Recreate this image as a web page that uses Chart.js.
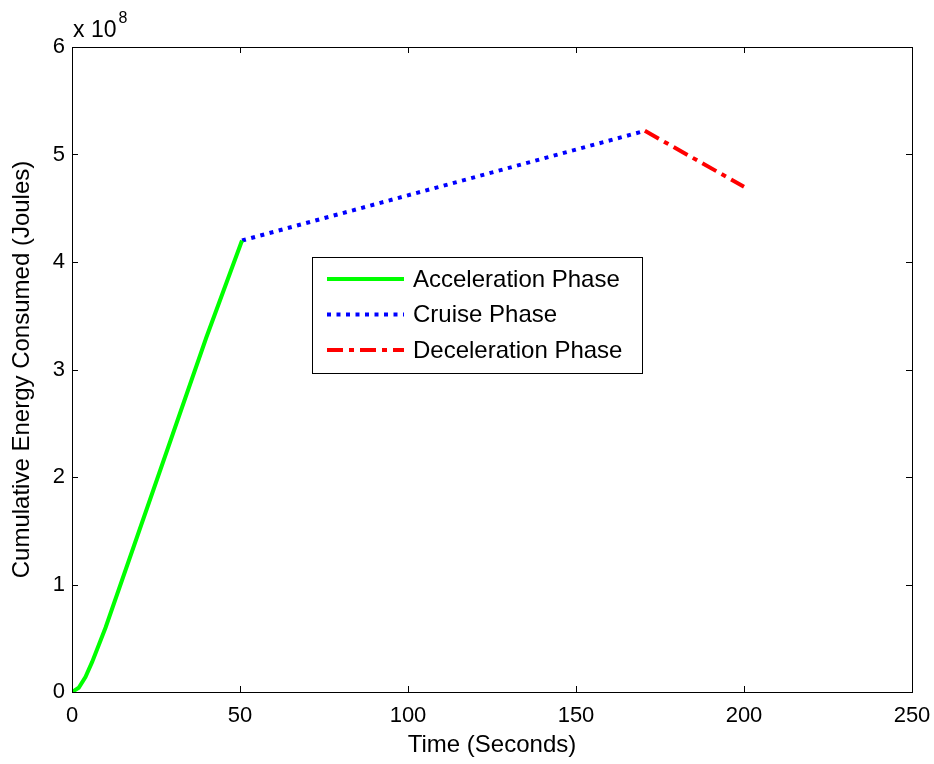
<!DOCTYPE html>
<html>
<head>
<meta charset="utf-8">
<script src="https://cdn.jsdelivr.net/npm/chart.js@4"></script>
<style>
  html, body { margin: 0; padding: 0; background: #fff; }
  #wrap { width: 934px; height: 764px; }
</style>
</head>
<body>
<div id="wrap"><canvas id="chart"></canvas></div>
<script>
// values, energy in units of 10^8 J
const accelTime = [0, 2, 4, 6, 8, 10, 20, 30, 40, 50.6];
const accelEnergy = [0, 0.04, 0.14, 0.28, 0.44, 0.6, 1.5, 2.4, 3.3, 4.2];
const cruiseTime = [50.6, 170.5];
const cruiseEnergy = [4.2, 5.22];
const decelTime = [170.5, 200];
const decelEnergy = [5.22, 4.70];

const xTicks = [0, 50, 100, 150, 200, 250];
const yTicks = [0, 1, 2, 3, 4, 5, 6];
const seriesNames = ["Acceleration Phase", "Cruise Phase", "Deceleration Phase"];

const FONT_FAMILY = '"Liberation Sans", Arial, sans-serif';
const TICK_SIZE = 22;
const TITLE_SIZE = 24;

const toPoints = (xs, ys) => xs.map((x, i) => ({ x, y: ys[i] }));

// MATLAB style box, inward ticks, exponent label and legend
const matlabFrame = {
  id: "matlabFrame",
  afterDraw(chart) {
    const ctx = chart.ctx;
    const ca = chart.chartArea;
    const xs = chart.scales.x, ys = chart.scales.y;
    const tick = 6;
    ctx.save();
    ctx.strokeStyle = "#000";
    ctx.lineWidth = 1;
    ctx.strokeRect(ca.left + 0.5, ca.top + 0.5, ca.right - ca.left, ca.bottom - ca.top);
    ctx.beginPath();
    xTicks.forEach(v => {
      const px = Math.round(xs.getPixelForValue(v)) + 0.5;
      ctx.moveTo(px, ca.bottom); ctx.lineTo(px, ca.bottom - tick);
      ctx.moveTo(px, ca.top); ctx.lineTo(px, ca.top + tick);
    });
    yTicks.forEach(v => {
      const py = Math.round(ys.getPixelForValue(v)) + 0.5;
      ctx.moveTo(ca.left, py); ctx.lineTo(ca.left + tick, py);
      ctx.moveTo(ca.right, py); ctx.lineTo(ca.right - tick, py);
    });
    ctx.stroke();

    // exponent
    ctx.fillStyle = "#000";
    ctx.textBaseline = "alphabetic";
    ctx.textAlign = "left";
    ctx.font = "23px " + FONT_FAMILY;
    const base = "x 10";
    ctx.fillText(base, ca.left + 1, ca.top - 10);
    const w = ctx.measureText(base).width;
    ctx.font = "16px " + FONT_FAMILY;
    ctx.fillText("8", ca.left + w + 3, ca.top - 24);

    // legend
    const lx = ca.left + 240, ly = ca.top + 210, lw = 330, lh = 116;
    ctx.fillStyle = "#fff";
    ctx.fillRect(lx, ly, lw, lh);
    ctx.strokeStyle = "#000";
    ctx.lineWidth = 1;
    ctx.strokeRect(lx + 0.5, ly + 0.5, lw, lh);
    ctx.font = TITLE_SIZE + "px " + FONT_FAMILY;
    ctx.textBaseline = "middle";
    chart.data.datasets.forEach((ds, i) => {
      const ry = ly + 22 + i * 35.5;
      ctx.save();
      ctx.strokeStyle = ds.borderColor;
      ctx.lineWidth = ds.borderWidth;
      ctx.setLineDash(ds.borderDash || []);
      ctx.beginPath();
      ctx.moveTo(lx + 15, ry);
      ctx.lineTo(lx + 92, ry);
      ctx.stroke();
      ctx.restore();
      ctx.fillStyle = "#000";
      ctx.fillText(ds.label, lx + 101, ry + 1);
    });
    ctx.restore();
  }
};

new Chart(document.getElementById("chart"), {
  type: "line",
  data: {
    datasets: [
      {
        label: seriesNames[0],
        data: toPoints(accelTime, accelEnergy),
        borderColor: "#00ff00",
        borderWidth: 4,
        pointRadius: 0
      },
      {
        label: seriesNames[1],
        data: toPoints(cruiseTime, cruiseEnergy),
        borderColor: "#0000ff",
        borderWidth: 4,
        borderDash: [4, 5.5],
        pointRadius: 0
      },
      {
        label: seriesNames[2],
        data: toPoints(decelTime, decelEnergy),
        borderColor: "#ff0000",
        borderWidth: 4,
        borderDash: [16, 6, 5, 6],
        pointRadius: 0
      }
    ]
  },
  options: {
    responsive: true,
    maintainAspectRatio: false,
    animation: false,
    layout: { padding: { left: 0, right: 22, top: 47, bottom: 0 } },
    plugins: {
      legend: { display: false },
      tooltip: { enabled: false }
    },
    scales: {
      x: {
        type: "linear",
        min: 0,
        max: 250,
        afterBuildTicks: s => { s.ticks = xTicks.map(v => ({ value: v })); },
        afterFit: s => { s.height = 72; s.paddingLeft = 0; s.paddingRight = 0; },
        grid: { display: false, drawTicks: false },
        border: { display: false },
        ticks: { color: "#000", padding: 11, maxRotation: 0, font: { family: FONT_FAMILY, size: TICK_SIZE } },
        title: { display: true, text: "Time (Seconds)", color: "#000", padding: { top: 0, bottom: 4 }, font: { family: FONT_FAMILY, size: TITLE_SIZE } }
      },
      y: {
        type: "linear",
        min: 0,
        max: 6,
        afterBuildTicks: s => { s.ticks = yTicks.map(v => ({ value: v })); },
        afterFit: s => { s.width = 72; s.paddingTop = 0; s.paddingBottom = 0; },
        grid: { display: false, drawTicks: false },
        border: { display: false },
        ticks: { color: "#000", padding: 7, font: { family: FONT_FAMILY, size: TICK_SIZE } },
        title: { display: true, text: "Cumulative Energy Consumed (Joules)", color: "#000", padding: { top: 8, bottom: 0 }, font: { family: FONT_FAMILY, size: TITLE_SIZE } }
      }
    }
  },
  plugins: [matlabFrame]
});
</script>
</body>
</html>
